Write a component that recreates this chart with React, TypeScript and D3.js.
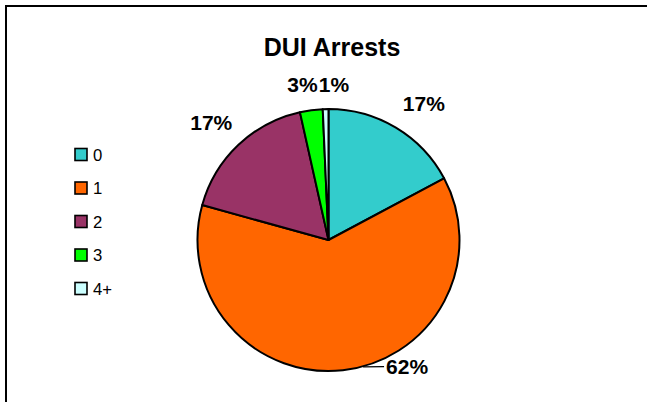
import React from "react";
import * as d3 from "d3";

const categories = ["0", "1", "2", "3", "4+"];
const values = [172, 621, 172, 28, 7];
const colors = ["#33CCCC", "#FF6600", "#993366", "#00FF00", "#CCFFFF"];
const title = "DUI Arrests";

// layout-only label nudges (from the centroid on the label ring)
const labelNudge: [number, number][] = [
  [13, 8],
  [61, -25],
  [-7, 6],
  [-5, 11],
  [9, 12],
];

const W = 647;
const H = 402;
const cx = 328.5;
const cy = 240;
const r = 131;
const FONT = "Arial, 'Liberation Sans', Helvetica, sans-serif";

export default function App() {
  const total = d3.sum(values);
  const pie = d3.pie<number>().sort(null).value((v) => v);
  const arcs = pie(values);
  const arc = d3.arc<d3.PieArcDatum<number>>().innerRadius(0).outerRadius(r);
  const labelArc = d3
    .arc<d3.PieArcDatum<number>>()
    .innerRadius(160)
    .outerRadius(160);

  const legendY = d3
    .scalePoint<string>()
    .domain(categories)
    .range([154.5, 288.5]);

  const fmt = (v: number) => `${Math.round((v / total) * 100)}%`;

  return (
    <svg
      width={W}
      height={H}
      style={{ position: "fixed", left: 0, top: 0, background: "#fff" }}
      fontFamily={FONT}
    >
      <rect x={0} y={0} width={W} height={H} fill="#fff" />
      <rect
        x={6}
        y={6}
        width={W + 50}
        height={H + 50}
        fill="none"
        stroke="#000"
        strokeWidth={2}
      />
      <text
        x={332}
        y={56}
        textAnchor="middle"
        fontSize={25}
        fontWeight="bold"
        fill="#000"
      >
        {title}
      </text>
      <g transform={`translate(${cx},${cy})`}>
        {arcs.map((a, i) => (
          <path
            key={i}
            d={arc(a) || ""}
            fill={colors[i]}
            stroke="#000"
            strokeWidth={2}
            strokeLinejoin="round"
          />
        ))}
        {arcs.map((a, i) => {
          const [lx, ly] = labelArc.centroid(a);
          const x = lx + labelNudge[i][0];
          const y = ly + labelNudge[i][1];
          let leader = null;
          if (i === 1) {
            const x1 = x - 23;
            const x0 = x1 - 21;
            const y0 = Math.sqrt(r * r - x0 * x0);
            leader = (
              <line
                x1={x0}
                y1={y0 + 0.5}
                x2={x1}
                y2={y - 7.5}
                stroke="#000"
                strokeWidth={1.2}
              />
            );
          }
          return (
            <g key={i}>
              {leader}
              <text
                x={x}
                y={y}
                textAnchor="middle"
                fontSize={21}
                fontWeight="bold"
                fill="#000"
              >
                {fmt(values[i])}
              </text>
            </g>
          );
        })}
      </g>
      <g>
        {categories.map((c, i) => {
          const yc = legendY(c) as number;
          return (
            <g key={c}>
              <rect
                x={75}
                y={yc - 6}
                width={12}
                height={12}
                fill={colors[i]}
                stroke="#000"
                strokeWidth={1.6}
              />
              <text x={93} y={yc + 6.2} fontSize={16.7} fill="#000">
                {c}
              </text>
            </g>
          );
        })}
      </g>
    </svg>
  );
}
